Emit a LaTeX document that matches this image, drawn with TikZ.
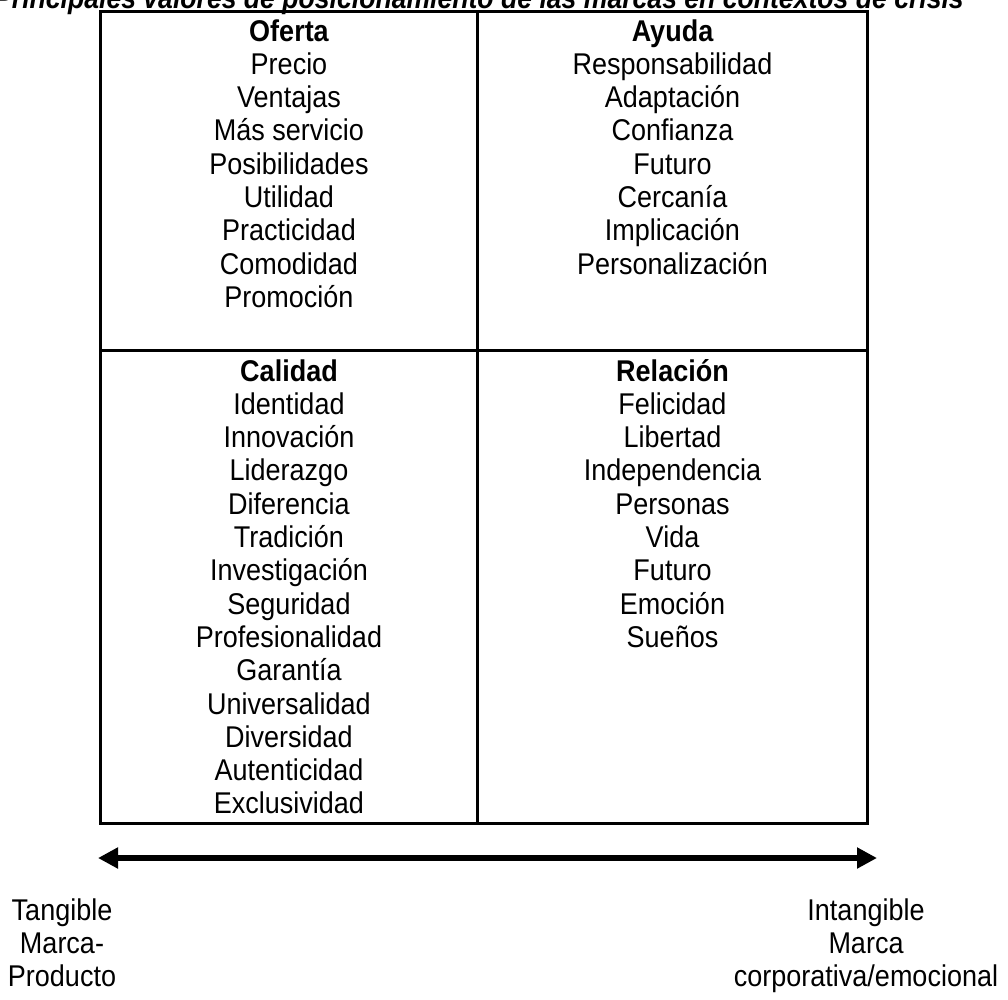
\documentclass[tikz,border=0pt]{standalone}
\usepackage{fontspec}
\setmainfont{Liberation Sans}[FakeStretch=0.9]
\usetikzlibrary{arrows.meta}
\tikzset{
  txt/.style={anchor=base, inner sep=0pt, font=\fontsize{30}{33.3}\selectfont},
  hdr/.style={txt, font=\fontsize{30}{33.3}\selectfont\bfseries},
  grid/.style={line width=3pt, line cap=rect},
  axis/.style={line width=6pt, {Triangle[length=20pt,width=20pt]}-{Triangle[length=20pt,width=20pt]}}
}
\begin{document}
\begin{tikzpicture}[x=1pt,y=1pt]
\useasboundingbox (0,0) rectangle (1008,-999);
\clip (0,0) rectangle (1008,-999);
% title (clipped at top)
\node[txt, font=\fontsize{30}{33.3}\selectfont\bfseries\itshape] (title) at (479,-8) {\scalebox{0.985}[1]{Principales valores de posicionamiento de las marcas en contextos de crisis}};
% grid
\coordinate (tl) at (100.5,-11.5);
\coordinate (br) at (867.5,-823);
\coordinate (vt) at (477.5,-11.5);
\coordinate (vb) at (477.5,-823);
\coordinate (hl) at (100.5,-350);
\coordinate (hr) at (867.5,-350);
\draw[grid] (tl) rectangle (br);
\draw[grid] (vt) -- (vb);
\draw[grid] (hl) -- (hr);
% top-left
\node[hdr] (oferta) at (289,-41) {Oferta};
\foreach \t [count=\i] in {Precio,Ventajas,Más servicio,Posibilidades,Utilidad,Practicidad,Comodidad,Promoción}
  \node[txt] (of\i) at (289,-41-\i*33.3) {\t};
% top-right
\node[hdr] (ayuda) at (672.5,-41) {Ayuda};
\foreach \t [count=\i] in {Responsabilidad,Adaptación,Confianza,Futuro,Cercanía,Implicación,Personalización}
  \node[txt] (ay\i) at (672.5,-41-\i*33.3) {\t};
% bottom-left
\node[hdr] (calidad) at (289,-381) {Calidad};
\foreach \t [count=\i] in {Identidad,Innovación,Liderazgo,Diferencia,Tradición,Investigación,Seguridad,Profesionalidad,Garantía,Universalidad,Diversidad,Autenticidad,Exclusividad}
  \node[txt] (ca\i) at (289,-381-\i*33.3) {\t};
% bottom-right
\node[hdr] (relacion) at (672.5,-381) {Relación};
\foreach \t [count=\i] in {Felicidad,Libertad,Independencia,Personas,Vida,Futuro,Emoción,Sueños}
  \node[txt] (re\i) at (672.5,-381-\i*33.3) {\t};
% axis
\coordinate (aL) at (98,-858);
\coordinate (aR) at (877,-858);
\draw[axis] (aL) -- (aR);
% axis labels
\node[txt] (lt1) at (62,-920) {Tangible};
\node[txt] (lt2) at (62,-953) {Marca-};
\node[txt] (lt3) at (62,-986) {Producto};
\node[txt] (rt1) at (866,-920) {Intangible};
\node[txt] (rt2) at (866,-953) {Marca};
\node[txt] (rt3) at (866,-986) {corporativa/emocional};
\end{tikzpicture}
\end{document}
